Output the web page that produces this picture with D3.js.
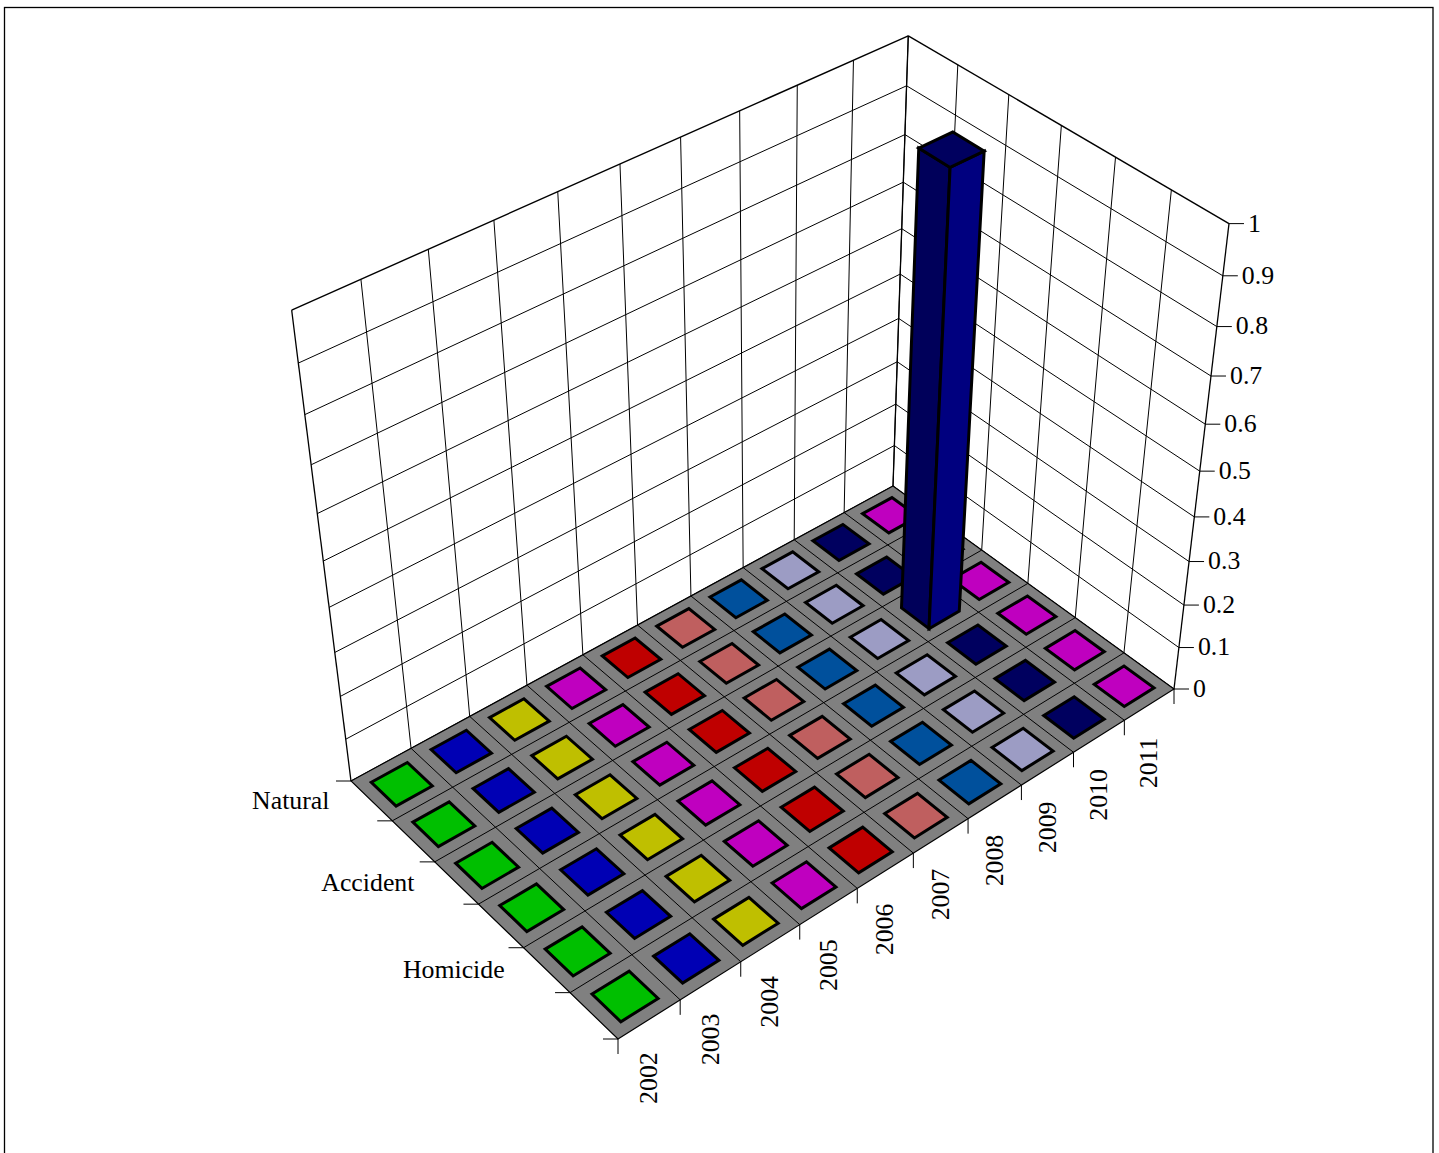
<!DOCTYPE html>
<html>
<head>
<meta charset="utf-8">
<style>html,body{margin:0;padding:0;background:#fff;overflow:hidden}svg{display:block}</style>
<script src="https://d3js.org/d3.v7.min.js"></script>
</head>
<body>
<svg id="chart" width="1439" height="1153"></svg>
<script>
// ---- data ----
const years = ["2002","2003","2004","2005","2006","2007","2008","2009","2010","2011"];
const rowLabels = ["Natural","","Accident","","Homicide",""];
const values = [
  [0,0,0,0,0,0,0,0,0,0],
  [0,0,0,0,0,0,0,0,0,0],
  [0,0,0,0,0,0,0,0,1,0],
  [0,0,0,0,0,0,0,0,0,0],
  [0,0,0,0,0,0,0,0,0,0],
  [0,0,0,0,0,0,0,0,0,0]
];
const yearColors = ["#00bf00","#0000b4","#bfbf00","#bf00bf","#bf0000","#bf5f5f","#00509c","#9c9cc4","#00005f","#bf00bf"];
const zTicks = [0,0.1,0.2,0.3,0.4,0.5,0.6,0.7,0.8,0.9,1];

// ---- projection: unit cube (u,v,w) -> screen, calibrated on the box corners ----
const floorP = {p00:[351,781],p10:[893,486],p11:[1174,689],p01:[618,1039]};
const topP = [{u:0,v:0,p:[293,312.5]},{u:1,v:0,p:[908,31.5]},{u:1,v:1,p:[1228,226]}];
function calibrate(){
  const {p00,p10,p11,p01}=floorP;
  const dx1=p10[0]-p11[0],dx2=p01[0]-p11[0],sx=p00[0]-p10[0]+p11[0]-p01[0];
  const dy1=p10[1]-p11[1],dy2=p01[1]-p11[1],sy=p00[1]-p10[1]+p11[1]-p01[1];
  const den=dx1*dy2-dx2*dy1;
  const g=(sx*dy2-dx2*sy)/den,h=(dx1*sy-sx*dy1)/den;
  const c1=[p10[0]-p00[0]+g*p10[0],p10[1]-p00[1]+g*p10[1],g];
  const c2=[p01[0]-p00[0]+h*p01[0],p01[1]-p00[1]+h*p01[1],h];
  const c4=[p00[0],p00[1],1];
  // least squares for c3
  const rows=[],rhs=[];
  topP.forEach(t=>{
    const X=t.u*c1[0]+t.v*c2[0]+c4[0],Y=t.u*c1[1]+t.v*c2[1]+c4[1],W=t.u*c1[2]+t.v*c2[2]+c4[2];
    rows.push([1,0,-t.p[0]]);rhs.push(t.p[0]*W-X);
    rows.push([0,1,-t.p[1]]);rhs.push(t.p[1]*W-Y);
  });
  const A=[[0,0,0,0],[0,0,0,0],[0,0,0,0]];
  rows.forEach((r,k)=>{for(let i=0;i<3;i++){for(let j=0;j<3;j++)A[i][j]+=r[i]*r[j];A[i][3]+=r[i]*rhs[k];}});
  for(let i=0;i<3;i++){
    let m=i;for(let k=i+1;k<3;k++)if(Math.abs(A[k][i])>Math.abs(A[m][i]))m=k;
    [A[i],A[m]]=[A[m],A[i]];
    for(let k=0;k<3;k++)if(k!==i){const f=A[k][i]/A[i][i];for(let j=i;j<4;j++)A[k][j]-=f*A[i][j];}
  }
  const c3=[A[0][3]/A[0][0],A[1][3]/A[1][1],A[2][3]/A[2][2]];
  return {c1,c2,c3,c4};
}
const cam=calibrate();
function proj(u,v,w){
  const f=i=>u*cam.c1[i]+v*cam.c2[i]+w*cam.c3[i]+cam.c4[i];
  return [f(0)/f(2),f(1)/f(2)];
}

// ---- scales ----
const uBand=d3.scaleBand().domain(years).range([0,1]).paddingInner(0.4).paddingOuter(0.2);
const vBand=d3.scaleBand().domain(d3.range(rowLabels.length)).range([0,1]).paddingInner(0.4).paddingOuter(0.2);
const uEdge=i=>i/years.length, vEdge=i=>i/rowLabels.length;
const wScale=d3.scaleLinear().domain([0,1]).range([0,1]);

const svg=d3.select("#chart");
const ink="#000";
function seg(g,a,b,sw){g.append("line").attr("x1",a[0]).attr("y1",a[1]).attr("x2",b[0]).attr("y2",b[1]).attr("stroke",ink).attr("stroke-width",sw);}
function poly(g,pts,fill,sw){g.append("polygon").attr("points",pts.map(p=>p.join(",")).join(" ")).attr("fill",fill).attr("stroke",ink).attr("stroke-width",sw).attr("stroke-linejoin","miter");}

// frame
svg.append("rect").attr("x",4.5).attr("y",7.5).attr("width",1428.5).attr("height",1300).attr("fill","#fff").attr("stroke",ink).attr("stroke-width",1.3);

// walls
const walls=svg.append("g");
zTicks.forEach(t=>{
  const w=wScale(t);
  seg(walls,proj(0,0,w),proj(1,0,w),t===1?1.4:1);
  seg(walls,proj(1,0,w),proj(1,1,w),t===1?1.4:1);
});
d3.range(years.length+1).forEach(i=>seg(walls,proj(uEdge(i),0,0),proj(uEdge(i),0,1),i===0||i===years.length?1.3:1));
d3.range(rowLabels.length+1).forEach(i=>seg(walls,proj(1,vEdge(i),0),proj(1,vEdge(i),1),i===rowLabels.length?1.3:1));

// floor
const floor=svg.append("g");
poly(floor,[proj(0,0,0),proj(1,0,0),proj(1,1,0),proj(0,1,0)],"#808080",1.2);
d3.range(1,years.length).forEach(i=>seg(floor,proj(uEdge(i),0,0),proj(uEdge(i),1,0),1));
d3.range(1,rowLabels.length).forEach(i=>seg(floor,proj(0,vEdge(i),0),proj(1,vEdge(i),0),1));

// ticks + labels
const axes=svg.append("g");
const tickLen=15;
d3.range(years.length+1).forEach(i=>{const p=proj(uEdge(i),1,0);seg(axes,p,[p[0],p[1]+tickLen],1);});
d3.range(rowLabels.length+1).forEach(i=>{const p=proj(0,vEdge(i),0);seg(axes,p,[p[0]-tickLen,p[1]],1);});
zTicks.forEach(t=>{const p=proj(1,1,wScale(t));seg(axes,p,[p[0]+tickLen,p[1]],1);
  axes.append("text").attr("x",p[0]+19).attr("y",p[1]+2).attr("dominant-baseline","middle").text(String(t));});
years.forEach(y=>{
  const u=uBand(y)+uBand.bandwidth()/2;const p=proj(u,1,0);
  axes.append("text").attr("transform",`translate(${p[0]+8},${p[1]+33}) rotate(-90)`).attr("text-anchor","end").text(y);
});
rowLabels.forEach((r,i)=>{
  if(!r)return;
  const p=proj(0,vBand(i)+vBand.bandwidth()/2,0);
  axes.append("text").attr("x",p[0]-42).attr("y",p[1]+2.5).attr("text-anchor","end").attr("dominant-baseline","middle").text(r);
});
axes.selectAll("text").attr("font-family","'Liberation Serif'").attr("font-size",25.8).attr("fill","#000");

// bars, back to front
const bars=svg.append("g");
const cells=[];
rowLabels.forEach((_,r)=>years.forEach((y,c)=>cells.push({r,c,y,val:values[r][c]})));
cells.sort((a,b)=>(a.r-b.r)||(b.c-a.c));
const shade=(col,k)=>{const c=d3.rgb(col);return d3.rgb(c.r*k,c.g*k,c.b*k).formatHex();};
cells.forEach(d=>{
  const u0=uBand(d.y),u1=u0+uBand.bandwidth(),v0=vBand(d.r),v1=v0+vBand.bandwidth(),w=wScale(d.val);
  const col=yearColors[d.c];
  if(d.val>0){
    poly(bars,[proj(u0,v0,0),proj(u0,v1,0),proj(u0,v1,w),proj(u0,v0,w)],shade(col,0.95),3);
    poly(bars,[proj(u0,v1,0),proj(u1,v1,0),proj(u1,v1,w),proj(u0,v1,w)],"#00007f",3);
  }
  poly(bars,[proj(u0,v0,w),proj(u1,v0,w),proj(u1,v1,w),proj(u0,v1,w)],col,3);
});
</script>
</body>
</html>
